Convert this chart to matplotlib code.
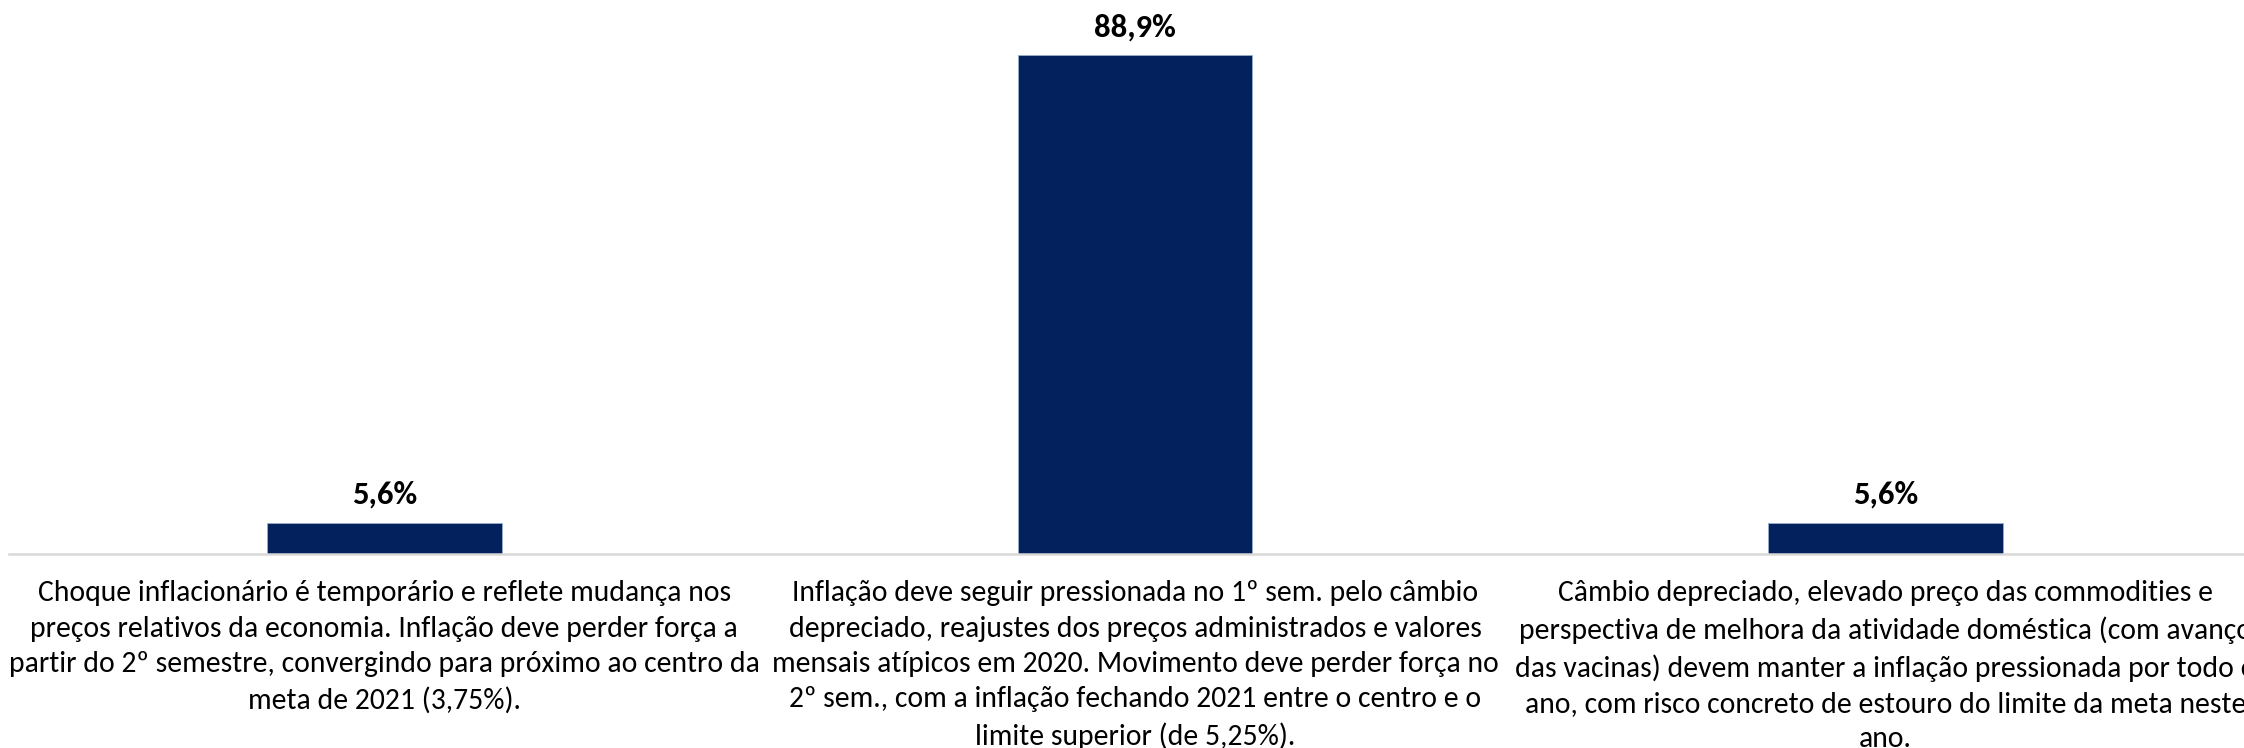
import matplotlib
matplotlib.use("Agg")
import matplotlib.pyplot as plt
import numpy as np

plt.rcParams['font.family'] = ['Carlito', 'Liberation Sans Narrow', 'DejaVu Sans']

# cenários para a inflação de 2021 e a participação de cada um
cenarios = [
    "Choque inflacionário é temporário e reflete mudança nos\n"
    "preços relativos da economia. Inflação deve perder força a\n"
    "partir do 2º semestre, convergindo para próximo ao centro da\n"
    "meta de 2021 (3,75%).",
    "Inflação deve seguir pressionada no 1º sem. pelo câmbio\n"
    "depreciado, reajustes dos preços administrados e valores\n"
    "mensais atípicos em 2020. Movimento deve perder força no\n"
    "2º sem., com a inflação fechando 2021 entre o centro e o\n"
    "limite superior (de 5,25%).",
    "Câmbio depreciado, elevado preço das commodities e\n"
    "perspectiva de melhora da atividade doméstica (com avanço\n"
    "das vacinas) devem manter a inflação pressionada por todo o\n"
    "ano, com risco concreto de estouro do limite da meta neste\n"
    "ano.",
]
percentuais = [5.6, 88.9, 5.6]

fig = plt.figure(figsize=(22.44, 7.48), dpi=100)
ax = fig.add_axes([9 / 2244, 194 / 748, 2252 / 2244, 554 / 748])

x = np.arange(len(percentuais))
barras = ax.bar(x, percentuais, width=0.313, color='#03215d', edgecolor='#9aaed0', linewidth=0.6)

for b, v in zip(barras, percentuais):
    ax.annotate(f"{v:.1f}%".replace('.', ','), (b.get_x() + b.get_width() / 2, v),
                xytext=(0, 20), textcoords='offset points', ha='center', va='center',
                fontsize=23.5, fontweight='bold', color='#000000')

ax.set_xlim(-0.5, 2.5)
ax.set_ylim(0, 98.7)
ax.set_yticks([])
ax.set_xticks(x)
ax.set_xticklabels(cenarios, fontsize=21.3, linespacing=1.44, color='#000000')
ax.tick_params(axis='x', length=0, pad=19)

for lado in ['top', 'right', 'left']:
    ax.spines[lado].set_visible(False)
ax.spines['bottom'].set_color('#d9d9d9')
ax.spines['bottom'].set_linewidth(1.8)

fig.savefig('out.png', dpi=100)
